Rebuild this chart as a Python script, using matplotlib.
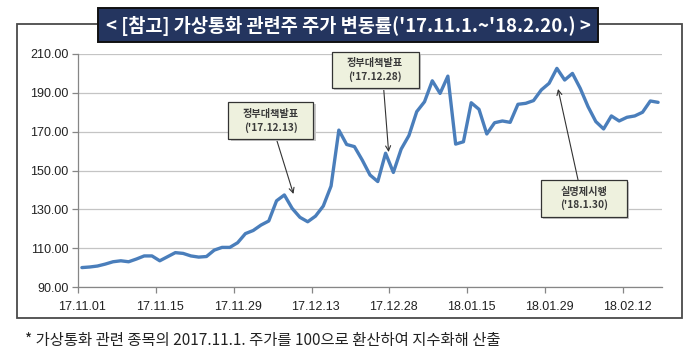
import matplotlib
matplotlib.use('Agg')
import matplotlib.pyplot as plt
from matplotlib.patches import Rectangle
import numpy as np

plt.rcParams['font.family'] = ['Noto Sans CJK KR', 'DejaVu Sans']

# ---- data ----
values = [100.0, 100.3, 100.8, 101.8, 103.0, 103.5, 103.0, 104.4, 106.0, 106.0,
          103.5, 105.6, 107.7, 107.3, 106.0, 105.4, 105.7, 109.0, 110.4, 110.4,
          112.8, 117.5, 119.1, 121.9, 124.0, 134.4, 137.4, 130.5, 125.9, 123.6,
          126.5, 131.7, 142.0, 170.8, 163.4, 162.3, 155.4, 147.7, 144.3, 158.9,
          149.0, 161.0, 168.0, 180.3, 185.4, 196.2, 189.7, 198.6, 163.6, 164.8,
          184.9, 181.5, 168.8, 174.6, 175.5, 174.8, 184.1, 184.6, 186.0, 191.5,
          194.9, 202.6, 196.6, 200.0, 192.3, 182.9, 175.2, 171.4, 178.1, 175.5,
          177.4, 178.1, 180.0, 185.8, 185.1]
tick_idx = [0, 10, 20, 30, 40, 50, 60, 70]
tick_labels = ['17.11.01', '17.11.15', '17.11.29', '17.12.13',
               '17.12.28', '18.01.15', '18.01.29', '18.02.12']
y_ticks = [90, 110, 130, 150, 170, 190, 210]
title = "< [참고] 가상통화 관련주 주가 변동률('17.11.1.~'18.2.20.) >"
footnote = "* 가상통화 관련 종목의 2017.11.1. 주가를 100으로 환산하여 지수화해 산출"
# annotations: text, box center (x, y), box size (w, h) in data units, arrow start, arrow tip
notes = [
    ("정부대책발표\n('17.12.13)", (24.27, 175.7), (10.94, 19.05), (24.98, 166.2), (27.17, 137.9)),
    ("정부대책발표\n('17.12.28)", (37.66, 201.7), (11.2, 18.5), (38.75, 192.5), (39.39, 159.5)),
    ("실명제시행\n('18.1.30)", (64.49, 135.6), (11.07, 19.05), (63.72, 145.1), (61.15, 192.0)),
]

W, H = 688, 355
fig = plt.figure(figsize=(W / 100, H / 100), dpi=100)

# outer frame
fig.patches.append(Rectangle((17 / W, 1 - 318 / H), 665 / W, 294 / H, transform=fig.transFigure,
                             fill=False, ec='#4a4a4a', lw=1.3, zorder=0))

ax = fig.add_axes([78 / W, 1 - 287 / H, (662 - 78) / W, (287 - 54) / H])
x = np.arange(len(values))
ax.plot(x, values, color='#4A7EBB', lw=2.4, solid_joinstyle='round', solid_capstyle='round', zorder=3)
ax.set_xlim(-0.5, len(values) - 0.5)
ax.set_ylim(90, 210)

ax.set_yticks(y_ticks)
ax.set_yticklabels([f'{v:.2f}' for v in y_ticks], fontfamily='Liberation Sans', fontsize=9, color='#222222')
ax.set_xticks(tick_idx)
ax.set_xticklabels(tick_labels, fontfamily='Liberation Sans', fontsize=9, color='#222222')
ax.set_xticks([i - 0.5 for i in tick_idx], minor=True)
ax.tick_params(axis='x', which='major', length=0, pad=10)
ax.tick_params(axis='x', which='minor', length=4, color='#868686', width=0.9)
ax.tick_params(axis='y', length=4, color='#868686', width=0.9, pad=3)
ax.yaxis.grid(True, color='#C4C4C4', lw=0.9)
ax.set_axisbelow(True)
for s in ['top', 'right']:
    ax.spines[s].set_visible(False)
for s in ['left', 'bottom']:
    ax.spines[s].set_color('#868686')
    ax.spines[s].set_linewidth(0.9)

for text, (cx, cy), (bw, bh), start, tip in notes:
    ax.add_patch(Rectangle((cx - bw / 2 + 0.3, cy - bh / 2 - 1.0), bw, bh, fc='#C8C8C8', ec='none',
                           zorder=5, clip_on=False))
    ax.add_patch(Rectangle((cx - bw / 2, cy - bh / 2), bw, bh, fc='#EEF1DE', ec='#333333', lw=0.9,
                           zorder=6, clip_on=False))
    ax.text(cx, cy, text, ha='center', va='center', fontsize=7.3, fontweight='bold', color='#3a3a3a',
            linespacing=1.35, zorder=7)
    ax.annotate('', xy=tip, xytext=start,
                arrowprops=dict(arrowstyle='->', color='#333333', lw=0.8, shrinkA=0, shrinkB=0,
                                mutation_scale=9), zorder=4)

# title bar
fig.patches.append(Rectangle((98 / W, 1 - 42 / H), 500 / W, 34 / H, transform=fig.transFigure,
                             fc='#24355F', ec='#111111', lw=1.4, zorder=2))
t = fig.text(348 / W, 1 - 25.5 / H, title, ha='center', va='center', color='white',
             fontsize=13, fontweight='bold', zorder=3)
fn = fig.text(25 / W, 1 - 341 / H, footnote, ha='left', va='center', color='#222222', fontsize=9.5)

fig.canvas.draw()
r = fig.canvas.get_renderer()
tw = t.get_window_extent(r).width
t.set_fontsize(13 * 484 / tw)
fw = fn.get_window_extent(r).width
fn.set_fontsize(9.5 * 477 / fw)

fig.savefig('out.png', dpi=100)
